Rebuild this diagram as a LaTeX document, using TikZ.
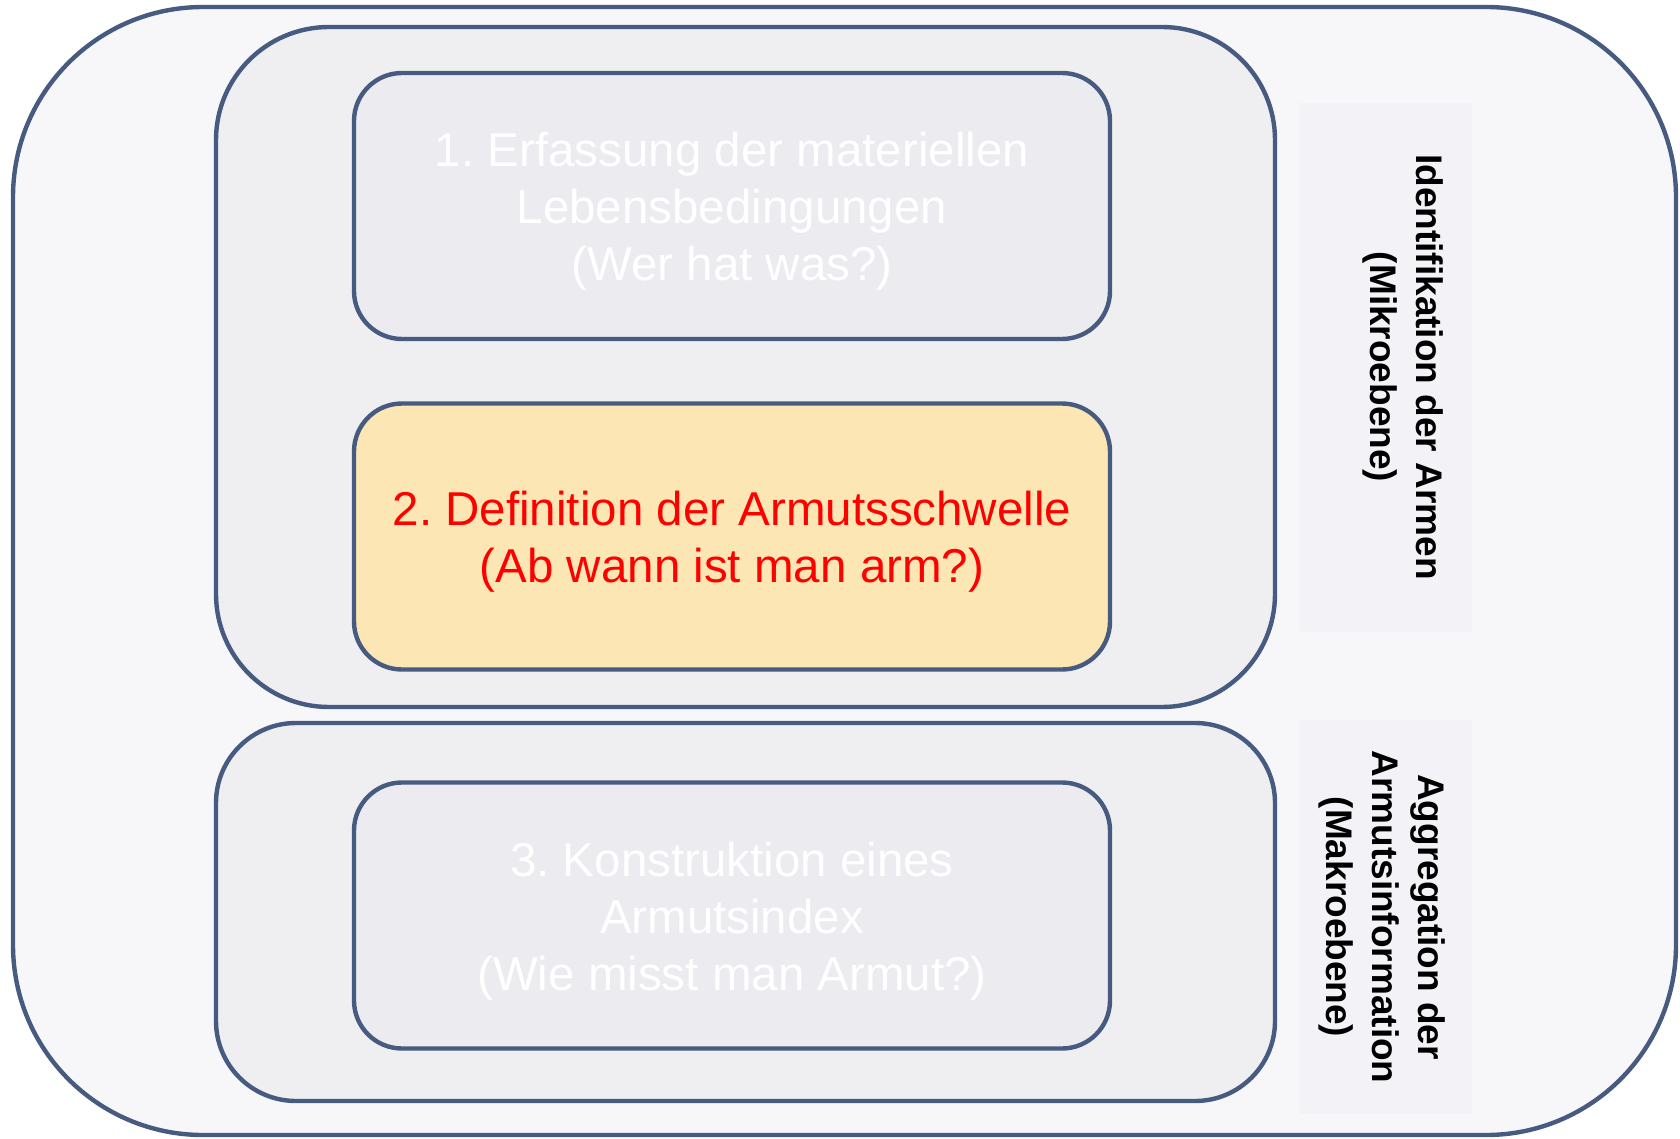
\documentclass[tikz,border=0pt]{standalone}
\usepackage{fontspec}
\setmainfont{Liberation Sans}
\frenchspacing
\usetikzlibrary{positioning}

\definecolor{rahmen}{HTML}{475A7F}
\definecolor{aussen}{HTML}{F7F7FA}
\definecolor{gruppe}{HTML}{EFEFF2}
\definecolor{schritt}{HTML}{EBEBF0}
\definecolor{aktiv}{HTML}{FCE6B4}
\definecolor{etikett}{HTML}{F3F3F7}

\tikzset{
  kasten/.style={draw=rahmen, line width=2.2pt, fill=gruppe, inner sep=0pt},
  schrittbox/.style={kasten, fill=schritt, rounded corners=24pt,
    minimum width=378pt, minimum height=133pt},
  schrifttext/.style={align=center, yshift=-2.75pt,
    font=\fontsize{23.75}{28.5}\selectfont},
  etikettbox/.style={fill=etikett, inner sep=0pt, minimum width=86.5pt},
  etiketttext/.style={align=center, rotate=-90,
    font=\bfseries\fontsize{18.5}{23.2}\selectfont},
}

\begin{document}
\begin{tikzpicture}[x=0.5pt, y=-0.5pt]
  \useasboundingbox (0,0) rectangle (1680,1139);
  % aeusserer Rahmen
  \node[kasten, fill=aussen, rounded corners=95pt,
    minimum width=831.5pt, minimum height=564pt] (gesamt) at (844.5,571) {};
  % Gruppen
  \node[kasten, rounded corners=56.5pt,
    minimum width=529.5pt, minimum height=340pt] (mikro) at (745.5,367) {};
  \node[kasten, rounded corners=40pt,
    minimum width=529.5pt, minimum height=189pt] (makro) at (745.5,912) {};
  % Etiketten rechts
  \node[etikettbox, minimum height=264.5pt] (etmikro) at (1385.5,367.5) {};
  \node[etikettbox, minimum height=197pt] (etmakro) at (1385.5,917) {};
  \node[etiketttext] (tmikro) at (1403,367) {Identifikation der Armen\\(Mikroebene)};
  \node[etiketttext] (tmakro) at (1382,917) {Aggregation der\\Armutsinformation\\(Makroebene)};
  % Schritte
  \node[schrittbox] (s1) at (732,206) {};
  \node[schrittbox, fill=aktiv] (s2) at (732,536.5) {};
  \node[schrittbox] (s3) at (732,915.5) {};
  \node[schrifttext, text=white] at (s1) {1. Erfassung der materiellen\\Lebensbedingungen\\(Wer hat was?)};
  \node[schrifttext, text=red] at (s2) {2. Definition der Armutsschwelle\\(Ab wann ist man arm?)};
  \node[schrifttext, text=white] at (s3) {3. Konstruktion eines\\Armutsindex\\(Wie misst man Armut?)};
\end{tikzpicture}
\end{document}
